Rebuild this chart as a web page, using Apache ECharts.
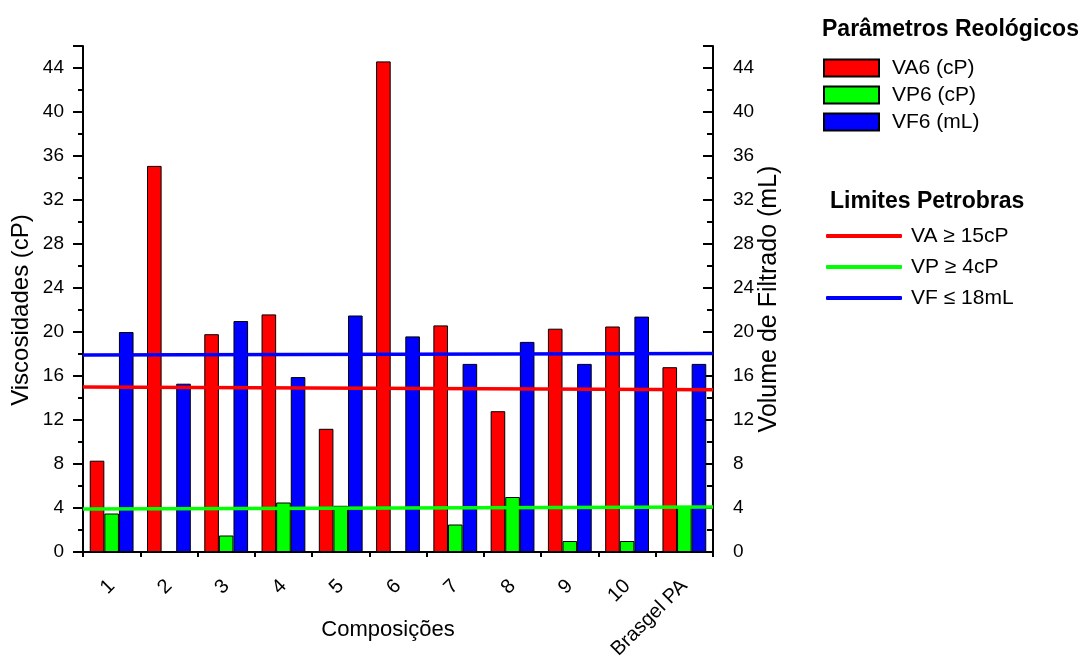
<!DOCTYPE html>
<html>
<head>
<meta charset="utf-8">
<script src="https://cdn.jsdelivr.net/npm/echarts@6/dist/echarts.min.js"></script>
<style>
html,body{margin:0;padding:0;background:#fff;}
#chart{width:1086px;height:659px;}
</style>
</head>
<body>
<div id="chart"></div>
<script>
// ---- data ----
var categories = ['1','2','3','4','5','6','7','8','9','10','Brasgel PA'];
var va6 = [8.3, 35.1, 19.8, 21.6, 11.2, 44.6, 20.6, 12.8, 20.3, 20.5, 16.8];
var vp6 = [3.5, 0, 1.5, 4.5, 4.2, 0, 2.5, 5.0, 1.0, 1.0, 4.1];
var vf6 = [20.0, 15.3, 21.0, 15.9, 21.5, 19.6, 17.1, 19.1, 17.1, 21.4, 17.1];
// limit lines (start / end of plot width)
var limitVA = [15.0, 14.75];
var limitVP = [3.9, 4.1];
var limitVF = [17.9, 18.05];
var yTicks = {min: 0, max: 46, interval: 4};

var font = 'Liberation Sans, Arial, sans-serif';
var chart = echarts.init(document.getElementById('chart'));
function lineData(arr){ return [[0, arr[0]], [categories.length, arr[1]]]; }

var option = {
  backgroundColor: '#fff',
  animation: false,
  textStyle: {fontFamily: font, color: '#000'},
  title: [
    {text: 'Parâmetros Reológicos', left: 822, top: 18, padding: 0,
     textStyle: {fontFamily: font, fontSize: 23, fontWeight: 'bold', color: '#000'}},
    {text: 'Limites Petrobras', left: 830, top: 190, padding: 0,
     textStyle: {fontFamily: font, fontSize: 23, fontWeight: 'bold', color: '#000'}}
  ],
  legend: [
    {data: ['VA6 (cP)', 'VP6 (cP)', 'VF6 (mL)'], orient: 'vertical', left: 823, top: 57,
     padding: 0, itemWidth: 55, itemHeight: 17, itemGap: 5, icon: 'rect',
     textStyle: {fontFamily: font, fontSize: 21, color: '#000', lineHeight: 22, padding: [0,0,0,8]}},
    {data: ['VA \u2265 15cP', 'VP \u2265 4cP', 'VF \u2264 18mL'], orient: 'vertical', left: 826, top: 225,
     padding: 0, itemWidth: 76, itemHeight: 4, itemGap: 9, icon: 'roundRect',
     textStyle: {fontFamily: font, fontSize: 21, color: '#000', lineHeight: 22, padding: [0,0,0,4]}}
  ],
  grid: {left: 83, right: 373, top: 46, bottom: 107, containLabel: false, outerBoundsMode: 'none'},
  xAxis: [
    {type: 'category', data: categories, position: 'bottom',
     axisLine: {lineStyle: {color: '#000', width: 2}},
     axisTick: {alignWithLabel: true, length: 9, lineStyle: {color: '#000', width: 2}},
     axisLabel: {rotate: 45, margin: 31, fontSize: 20, color: '#000', fontFamily: font, interval: 0},
     name: 'Composições', nameLocation: 'middle', nameGap: 67, nameMoveOverlap: false,
     nameTextStyle: {fontFamily: font, fontSize: 22, color: '#000', padding: [0, 20, 0, 0]}},
    {type: 'value', min: 0, max: categories.length, interval: 1, position: 'bottom',
     axisLine: {show: false}, splitLine: {show: false},
     axisTick: {show: true, length: 5, lineStyle: {color: '#000', width: 2}},
     axisLabel: {show: false}}
  ],
  yAxis: [
    {type: 'value', min: yTicks.min, max: yTicks.max, interval: yTicks.interval, position: 'left',
     axisLine: {show: true, lineStyle: {color: '#000', width: 2}},
     axisTick: {show: true, length: 10, lineStyle: {color: '#000', width: 2}},
     minorTick: {show: true, splitNumber: 2, length: 5, lineStyle: {color: '#000', width: 2}},
     splitLine: {show: false},
     axisLabel: {margin: 19, fontSize: 19, color: '#000', fontFamily: font, showMaxLabel: false},
     name: 'Viscosidades (cP)', nameLocation: 'middle', nameGap: 50, nameMoveOverlap: false,
     nameTextStyle: {fontFamily: font, fontSize: 24, color: '#000', padding: [0, 0, 0, -22]}},
    {type: 'value', min: yTicks.min, max: yTicks.max, interval: yTicks.interval, position: 'right',
     axisLine: {show: true, lineStyle: {color: '#000', width: 2}},
     axisTick: {show: true, inside: true, length: 10, lineStyle: {color: '#000', width: 2}},
     minorTick: {show: true, splitNumber: 2, length: 6, lineStyle: {color: '#000', width: 2}},
     splitLine: {show: false},
     axisLabel: {margin: 20, fontSize: 19, color: '#000', fontFamily: font, showMaxLabel: false},
     name: 'Volume de Filtrado (mL)', nameLocation: 'middle', nameGap: 44, nameMoveOverlap: false,
     nameTextStyle: {fontFamily: font, fontSize: 25, color: '#000'}}
  ],
  series: [
    {name: 'VA6 (cP)', type: 'bar', xAxisIndex: 0, yAxisIndex: 0, data: va6,
     barWidth: 14.6, barGap: '0%',
     itemStyle: {color: '#ff0000', borderColor: '#000', borderWidth: 1}},
    {name: 'VP6 (cP)', type: 'bar', xAxisIndex: 0, yAxisIndex: 0, data: vp6,
     barWidth: 14.6, barGap: '0%',
     itemStyle: {color: '#00ff00', borderColor: '#000', borderWidth: 1}},
    {name: 'VF6 (mL)', type: 'bar', xAxisIndex: 0, yAxisIndex: 1, data: vf6,
     barWidth: 14.6, barGap: '0%',
     itemStyle: {color: '#0000ff', borderColor: '#000', borderWidth: 1}},
    {name: 'VA \u2265 15cP', type: 'line', xAxisIndex: 1, yAxisIndex: 0, data: lineData(limitVA),
     symbol: 'none', z: 5, lineStyle: {color: '#ff0000', width: 3.5}, itemStyle: {color: '#ff0000'}},
    {name: 'VP \u2265 4cP', type: 'line', xAxisIndex: 1, yAxisIndex: 0, data: lineData(limitVP),
     symbol: 'none', z: 5, lineStyle: {color: '#00ff00', width: 3.5}, itemStyle: {color: '#00ff00'}},
    {name: 'VF \u2264 18mL', type: 'line', xAxisIndex: 1, yAxisIndex: 1, data: lineData(limitVF),
     symbol: 'none', z: 5, lineStyle: {color: '#0000ff', width: 3.5}, itemStyle: {color: '#0000ff'}}
  ]
};
chart.setOption(option);
</script>
</body>
</html>
